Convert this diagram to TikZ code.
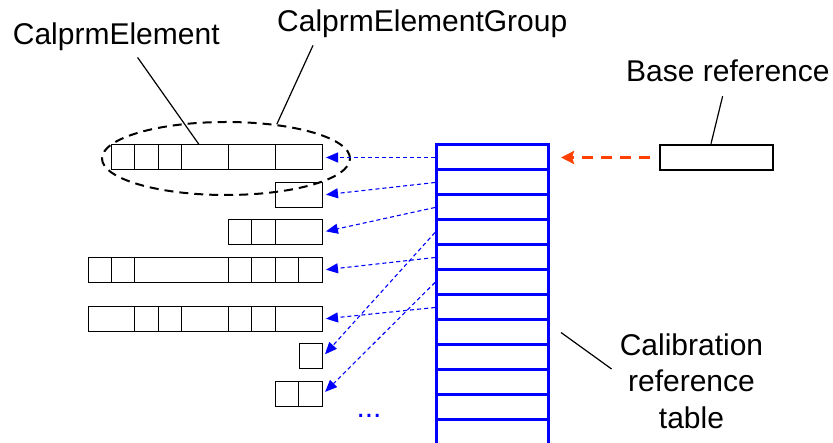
\documentclass[tikz,border=0pt]{standalone}
\usepackage{fontspec}
\setmainfont{Liberation Sans}
\usetikzlibrary{arrows.meta,shapes.geometric}
\definecolor{refred}{RGB}{255,64,0}
\begin{document}
\begin{tikzpicture}
[x=1pt,y=-1pt,
 elem/.style={draw,line width=1pt,minimum height=25pt,inner sep=0pt,anchor=east},
 row/.style={draw=blue,line width=3pt,minimum width=112pt,minimum height=25pt,inner sep=0pt},
 lbl/.style={font=\fontsize{30}{36.5}\selectfont,inner sep=0pt},
 leader/.style={line width=1.2pt},
 ptr/.style={blue,line width=1.1pt,dash pattern=on 4pt off 3pt,-{Triangle[length=12pt,width=10pt]},shorten >=3pt}]
\useasboundingbox (0,0) rectangle (833,443);
\def\u{23.4}
\node[elem,minimum width=9*\u] (b1) at (323,157.5) {};
\node[elem,minimum width=2*\u] (b2) at (323,195) {};
\node[elem,minimum width=4*\u] (b3) at (323,232) {};
\node[elem,minimum width=10*\u] (b4) at (323,270) {};
\node[elem,minimum width=10*\u] (b5) at (323,319) {};
\node[elem,minimum width=1*\u] (b6) at (323,356.5) {};
\node[elem,minimum width=2*\u] (b7) at (323,394) {};
\foreach \b/\cuts in {b1/{1,2,3,5,7},b3/{1,2},b4/{1,2,6,7,8,9},b5/{2,3,4,6,7,8},b7/{1}}
  \foreach \k in \cuts
    \draw[line width=1pt] ([xshift=\k*\u pt]\b.north west) -- ([xshift=\k*\u pt]\b.south west);
\node[ellipse,draw,line width=2pt,dash pattern=on 9pt off 6pt,minimum width=248pt,minimum height=73pt,inner sep=0pt] (grp) at (226,158.5) {};
\foreach \i in {1,...,12}
  \node[row] (r\i) at (492.5,{132.5+25*\i}) {};
\node[draw,line width=2.5pt,minimum width=113pt,minimum height=25pt,inner sep=0pt] (base) at (716.5,157.5) {};
\node[lbl,anchor=base west] (elemlbl) at (12.7,45) {CalprmElement};
\node[lbl,anchor=base west] (grplbl) at (277,32) {CalprmElementGroup};
\node[lbl,anchor=base west] (baselbl) at (626,82) {Base reference};
\node[lbl,align=center] (tbllbl) at (691.5,381) {Calibration\\reference\\table};
\node[lbl,blue,anchor=base] (dots) at (369,418) {...};
\foreach \r/\b in {1/1,2/2,3/3,4/6,5/4,6/7,7/5}
  \draw[ptr] (r\r.west) -- (b\b.east);
\draw[refred,line width=3pt,dash pattern=on 11pt off 8pt,-{Stealth[length=13pt,width=13pt,inset=2pt]},shorten <=9pt,shorten >=11pt] (base.west) -- (r1.east);
\draw[leader] ([xshift=21.3pt,yshift=-6pt]elemlbl.south) -- ([xshift=87.6pt]b1.north west);
\draw[leader] ([xshift=36pt,yshift=-7pt]grplbl.south west) -- (grp.34);
\draw[leader] ([xshift=-5.3pt,yshift=-13.7pt]baselbl.south) -- ([xshift=-5.5pt]base.north);
\draw[leader] ([xshift=11pt]r8.east) -- ([xshift=-8pt,yshift=12pt]tbllbl.west);
\end{tikzpicture}
\end{document}
